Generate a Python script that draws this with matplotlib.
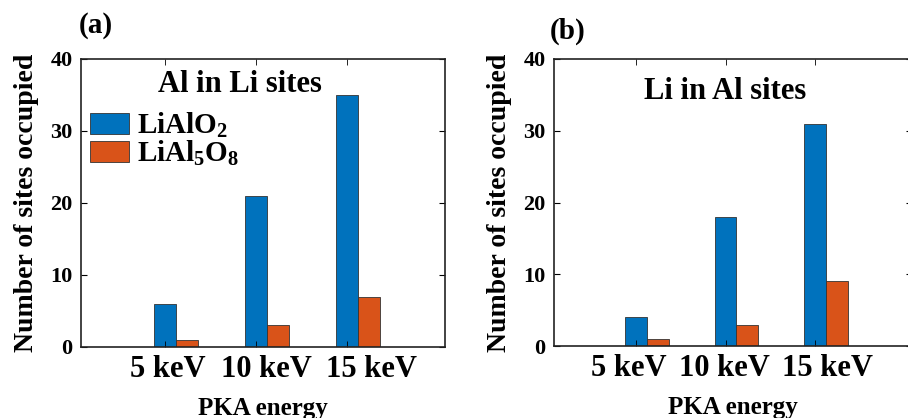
import matplotlib.pyplot as plt
import numpy as np
from matplotlib.patches import Patch

plt.rcParams['font.family'] = 'Liberation Serif'
plt.rcParams['font.weight'] = 'bold'
plt.rcParams['mathtext.fontset'] = 'custom'
plt.rcParams['mathtext.rm'] = 'Liberation Serif:bold'
plt.rcParams['mathtext.default'] = 'rm'

energies = ['5 keV', '10 keV', '15 keV']
series_names = ['LiAlO$_2$', 'LiAl$_5$O$_8$']
al_in_li = {'LiAlO2': [6, 21, 35], 'LiAl5O8': [1, 3, 7]}
li_in_al = {'LiAlO2': [4, 18, 31], 'LiAl5O8': [1, 3, 9]}

blue = '#0072BD'
orange = '#D95319'


def drawPanel(ax, data, title, tx, ty, label_shift):
    x = np.arange(1, len(energies) + 1)
    w = 0.242
    # blue bar sits on the tick, orange one right beside it
    ax.bar(x, data['LiAlO2'], w, color=blue, edgecolor='#333333', linewidth=0.6)
    ax.bar(x + w, data['LiAl5O8'], w, color=orange, edgecolor='#333333', linewidth=0.6)
    ax.set_xlim(0.08, 4.08)
    ax.set_ylim(0, 40)
    ax.set_xticks(x, minor=True)
    ax.set_xticks(x + np.array(label_shift))
    ax.set_xticklabels(energies, fontsize=22, fontweight='bold')
    ax.set_yticks([0, 10, 20, 30, 40])
    ax.tick_params(axis='y', labelsize=16, direction='in', length=4, right=True, pad=6)
    ax.tick_params(axis='x', which='major', length=0, pad=6)
    ax.tick_params(axis='x', which='minor', direction='in', length=4, top=True)
    for s in ax.spines.values():
        s.set_linewidth(1.2)
        s.set_color('#222222')
    ax.set_ylabel('Number of sites occupied', fontsize=20, fontweight='bold', labelpad=8)
    ax.set_xlabel('PKA energy', fontsize=18, fontweight='bold', labelpad=9)
    ax.text(tx, ty, title, fontsize=22, fontweight='bold', ha='center', va='center')


fig = plt.figure(figsize=(9.08, 4.18), dpi=100)
ax1 = fig.add_axes([0.0892, 0.170, 0.401, 0.689])
ax2 = fig.add_axes([0.610, 0.172, 0.394, 0.687])

drawPanel(ax1, al_in_li, 'Al in Li sites', 1.83, 36.4, [0.03, 0.12, 0.27])
drawPanel(ax2, li_in_al, 'Li in Al sites', 2.0, 35.5, [-0.08, -0.01, 0.14])

handles = [Patch(facecolor=blue, edgecolor='#333333', linewidth=0.6),
           Patch(facecolor=orange, edgecolor='#333333', linewidth=0.6)]
ax1.legend(handles, series_names, loc='upper left', bbox_to_anchor=(0.0, 0.85),
           frameon=False, fontsize=21, handlelength=1.35, handleheight=0.7,
           handletextpad=0.28, labelspacing=-0.05, borderpad=0.1, borderaxespad=0.2)

fig.text(0.087, 0.94, '(a)', fontsize=21, fontweight='bold', va='center')
fig.text(0.606, 0.926, '(b)', fontsize=21, fontweight='bold', va='center')

fig.savefig('out.png', dpi=100)
